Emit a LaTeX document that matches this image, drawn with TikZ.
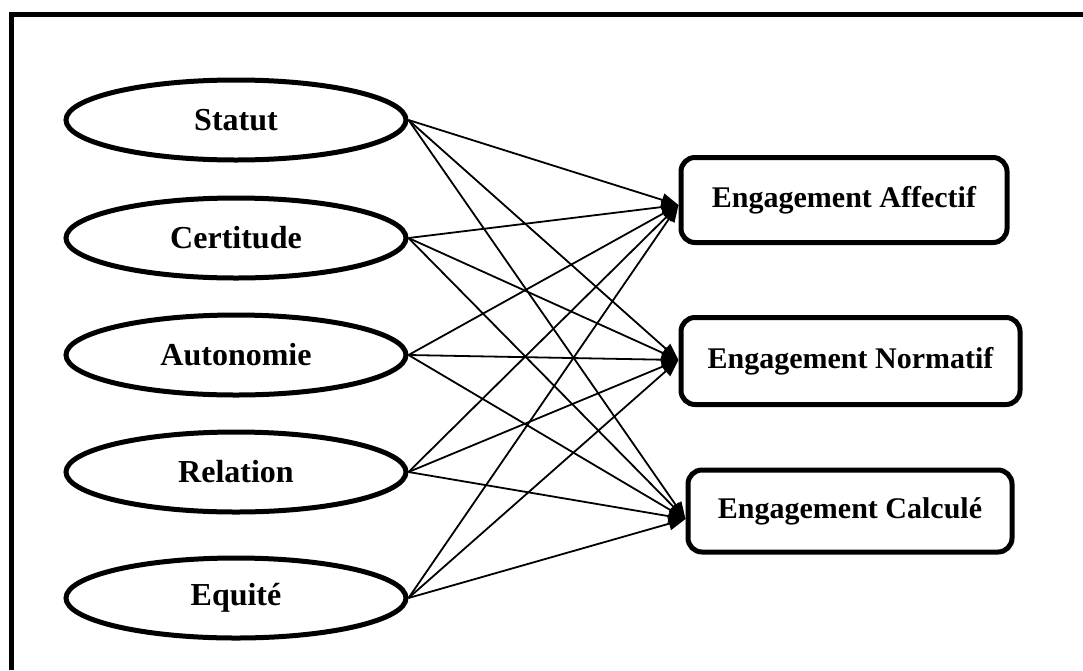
\documentclass[tikz,border=0pt]{standalone}
\usepackage{fontspec}
\setmainfont{Liberation Serif}
\usetikzlibrary{arrows.meta,shapes.geometric}
\begin{document}
\begin{tikzpicture}[x=1pt,y=-1pt,
 oval/.style={draw,line width=5pt,ellipse,minimum width=340pt,minimum height=80pt,inner sep=0pt,font=\fontsize{32}{36}\selectfont\bfseries},
 box/.style={draw,line width=5pt,rounded corners=14pt,inner sep=0pt,font=\fontsize{30}{34}\selectfont\bfseries},
 link/.style={line width=1.8pt,-{Triangle[length=17pt,width=13pt]}}]
\useasboundingbox (0,0) rectangle (1083,670);
\draw[line width=5pt] (11.5,670) -- (11.5,14.5) -- (1083,14.5);
\node[oval] (s) at (236,120) {Statut};
\node[oval] (c) at (236,238) {Certitude};
\node[oval] (a) at (236,355) {Autonomie};
\node[oval] (r) at (236,472) {Relation};
\node[oval] (e) at (236,598) {Equité};
\node[box,minimum width=326pt,minimum height=85pt] (ea) at (844,200) {Engagement Affectif};
\node[box,minimum width=339pt,minimum height=87pt] (en) at (850.5,361) {Engagement Normatif};
\node[box,minimum width=324pt,minimum height=82pt] (ec) at (850,511) {Engagement Calculé};
\foreach \src in {s,c,a,r,e}{
  \draw[link] (\src.east) -- ([yshift=-5pt]ea.west);
  \draw[link] (\src.east) -- ([yshift=1pt]en.west);
  \draw[link] (\src.east) -- ([yshift=-8pt]ec.west);
}
\end{tikzpicture}
\end{document}
